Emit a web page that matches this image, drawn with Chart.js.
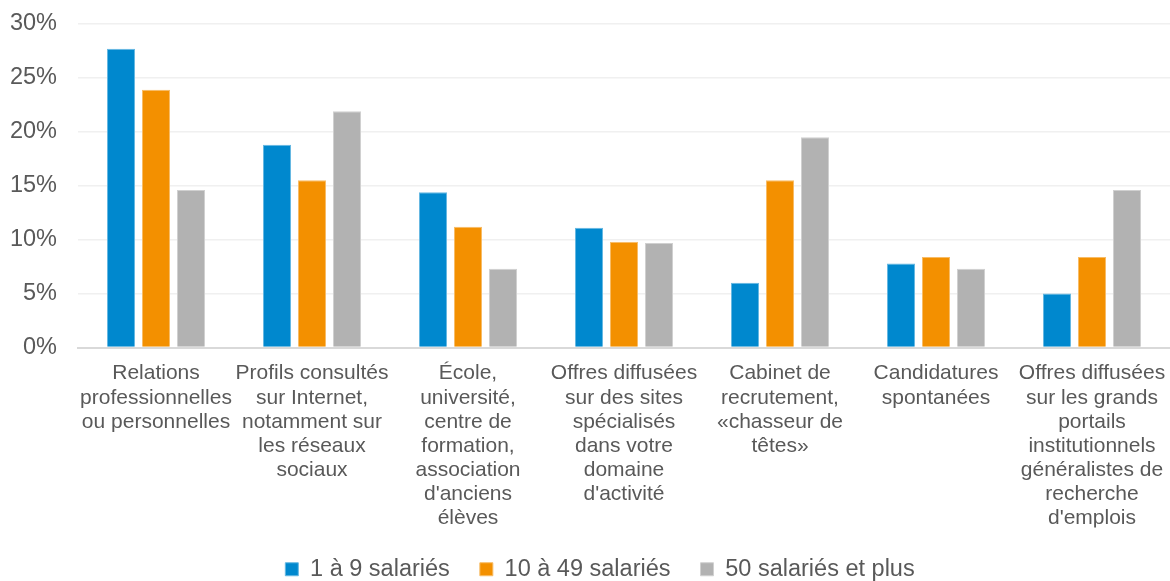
<!DOCTYPE html>
<html>
<head>
<meta charset="utf-8">
<script src="https://cdn.jsdelivr.net/npm/chart.js@4"></script>
<style>
    body { margin: 0; background: #ffffff; }
    #wrap { width: 1170px; height: 581px; }
</style>
</head>
<body>
<div id="wrap"><canvas id="recruitChart" width="1170" height="581"></canvas></div>
<script>
// categories (each label split into its lines)
const categories = [
    ['Relations', 'professionnelles', 'ou personnelles'],
    ['Profils consultés', 'sur Internet,', 'notamment sur', 'les réseaux', 'sociaux'],
    ['École,', 'université,', 'centre de', 'formation,', 'association', "d'anciens", 'élèves'],
    ['Offres diffusées', 'sur des sites', 'spécialisés', 'dans votre', 'domaine', "d'activité"],
    ['Cabinet de', 'recrutement,', '«chasseur de', 'têtes»'],
    ['Candidatures', 'spontanées'],
    ['Offres diffusées', 'sur les grands', 'portails', 'institutionnels', 'généralistes de', 'recherche', "d'emplois"]
];

const seriesNames = ['1 à 9 salariés', '10 à 49 salariés', '50 salariés et plus'];

// values in %
const small = [27.7, 18.8, 14.4, 11.1, 6.0, 7.8, 5.0];
const medium = [23.9, 15.5, 11.2, 9.8, 15.5, 8.4, 8.4];
const large = [14.6, 21.9, 7.3, 9.7, 19.5, 7.3, 14.6];

const yTicks = [0, 5, 10, 15, 20, 25, 30];

const colors = ['#0088ce', '#f39000', '#b2b2b2'];
const edges = ['#66b8e2', '#f8bc66', '#d0d0d0'];

Chart.defaults.font.family = '"Liberation Sans", Arial, sans-serif';
Chart.defaults.color = '#595959';

const ctx = document.getElementById('recruitChart').getContext('2d');

const datasets = [small, medium, large].map(function (values, i) {
    return {
        label: seriesNames[i],
        data: values,
        backgroundColor: colors[i],
        borderColor: edges[i],
        borderWidth: 1,
        categoryPercentage: 0.673,
        barPercentage: 0.8
    };
});

// nudge the legend a bit to the right so it sits centred like the original
const legendShift = {
    id: 'legendShift',
    afterLayout: function (chart) {
        chart.legend.left += 10;
        chart.legend.right += 10;
    }
};

new Chart(ctx, {
    type: 'bar',
    data: {
        labels: categories,
        datasets: datasets
    },
    plugins: [legendShift],
    options: {
        responsive: false,
        animation: false,
        layout: {
            padding: { top: 24, left: 10, right: 0, bottom: -10 }
        },
        scales: {
            x: {
                grid: { display: false, drawTicks: false },
                border: { display: true, color: '#d9d9d9', width: 2 },
                ticks: {
                    font: { size: 21, lineHeight: 1.15 },
                    padding: 14,
                    maxRotation: 0,
                    autoSkip: false
                },
                afterFit: function (scale) {
                    // labels spill into the legend's empty top padding
                    scale.paddingLeft = 0;
                    scale.paddingRight = 0;
                    scale.height = 180;
                }
            },
            y: {
                min: 0,
                max: 30,
                afterBuildTicks: function (axis) {
                    axis.ticks = yTicks.map(function (v) { return { value: v }; });
                },
                afterFit: function (scale) {
                    scale.width = 68;
                    scale.paddingTop = 0;
                    scale.paddingBottom = 0;
                },
                grid: {
                    drawTicks: false,
                    color: '#f0f0f0',
                    lineWidth: 1.5
                },
                border: { display: false },
                ticks: {
                    font: { size: 23.5 },
                    padding: 21,
                    callback: function (v) { return v + '%'; }
                }
            }
        },
        plugins: {
            legend: {
                position: 'bottom',
                labels: {
                    font: { size: 23.5 },
                    boxWidth: 13,
                    boxHeight: 13,
                    padding: 30,
                    color: '#595959'
                }
            },
            tooltip: { enabled: false }
        }
    }
});
</script>
</body>
</html>
